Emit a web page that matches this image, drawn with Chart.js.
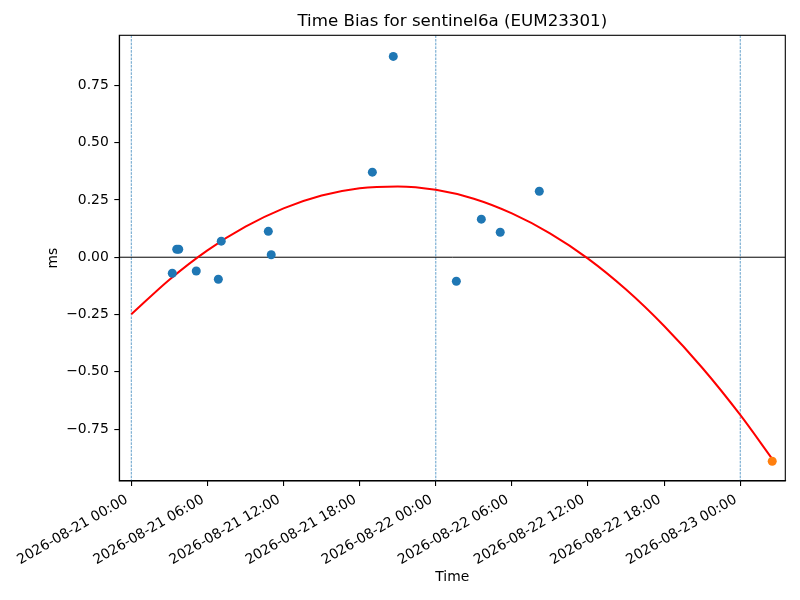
<!DOCTYPE html>
<html>
<head>
<meta charset="utf-8">
<script src="https://cdn.jsdelivr.net/npm/chart.js@4.4.1/dist/chart.umd.min.js"></script>
<style>
  html, body { margin: 0; padding: 0; background: #fff; }
  #wrap { width: 800px; height: 600px; }
</style>
</head>
<body>
<div id="wrap"><canvas id="c" width="800" height="600"></canvas></div>
<script>
// ---- Data (hours since 2026-08-21 00:00) ----
const obsHours  = [3.23, 3.58, 3.74, 5.12, 6.86, 7.09, 10.80, 11.03, 19.00, 20.65, 25.62, 27.59, 29.08, 32.16];
const obsValues = [-0.070, 0.035, 0.035, -0.060, -0.096, 0.070, 0.113, 0.011, 0.371, 0.876, -0.105, 0.166, 0.109, 0.288];

const predHours  = [50.52];
const predValues = [-0.890];

const fitHours  = [0, 3, 6, 9, 12, 15, 18, 21, 24, 27, 30, 33, 36, 39, 42, 45, 48, 50.52];
const fitValues = [-0.249, -0.098, 0.030, 0.133, 0.213, 0.269, 0.301, 0.309, 0.294, 0.255, 0.191, 0.104, -0.006, -0.141, -0.300, -0.482, -0.688, -0.880];

const dayLineHours = [0, 24, 48];

const xTickHours  = [0, 6, 12, 18, 24, 30, 36, 42, 48];
const xTickLabels = ['2026-08-21 00:00', '2026-08-21 06:00', '2026-08-21 12:00', '2026-08-21 18:00',
                     '2026-08-22 00:00', '2026-08-22 06:00', '2026-08-22 12:00', '2026-08-22 18:00',
                     '2026-08-23 00:00'];
const yTickValues = [-0.75, -0.5, -0.25, 0, 0.25, 0.5, 0.75];
const yTickLabels = ['\u22120.75', '\u22120.50', '\u22120.25', '0.00', '0.25', '0.50', '0.75'];

const titleText = 'Time Bias for sentinel6a (EUM23301)';
const xTitle = 'Time';
const yTitle = 'ms';

// ---- Chart ----
const FONT = 'DejaVu Sans';
Chart.defaults.font.family = FONT;
Chart.defaults.color = '#000';

const refLines = {
  id: 'refLines',
  beforeDatasetsDraw(chart) {
    const {ctx, chartArea, scales} = chart;
    ctx.save();
    ctx.beginPath();
    ctx.rect(chartArea.left, chartArea.top, chartArea.right - chartArea.left, chartArea.bottom - chartArea.top);
    ctx.clip();
    // vertical day lines
    ctx.strokeStyle = '#1f77b4';
    ctx.lineWidth = 0.7;
    ctx.setLineDash([2.6, 1.1]);
    dayLineHours.forEach(h => {
      const x = scales.x.getPixelForValue(h);
      ctx.beginPath();
      ctx.moveTo(x, chartArea.top);
      ctx.lineTo(x, chartArea.bottom);
      ctx.stroke();
    });
    // zero line
    ctx.setLineDash([]);
    ctx.strokeStyle = '#000';
    ctx.lineWidth = 1;
    const y0 = scales.y.getPixelForValue(0);
    ctx.beginPath();
    ctx.moveTo(chartArea.left, y0);
    ctx.lineTo(chartArea.right, y0);
    ctx.stroke();
    ctx.restore();
  },
  afterDraw(chart) {
    const {ctx, chartArea} = chart;
    ctx.save();
    ctx.strokeStyle = '#000';
    ctx.lineWidth = 1.1;
    ctx.strokeRect(chartArea.left, chartArea.top, chartArea.right - chartArea.left, chartArea.bottom - chartArea.top);
    // axes title, centred over the plot area
    ctx.fillStyle = '#000';
    ctx.font = '16.67px "' + FONT + '"';
    ctx.textAlign = 'center';
    ctx.textBaseline = 'middle';
    ctx.fillText(titleText, (chartArea.left + chartArea.right) / 2, 22);
    ctx.restore();
  }
};

new Chart(document.getElementById('c'), {
  type: 'scatter',
  data: {
    datasets: [
      {
        label: 'observed',
        data: obsHours.map((h, i) => ({x: h, y: obsValues[i]})),
        backgroundColor: '#1f77b4',
        borderWidth: 0,
        pointRadius: 4.5,
        order: 1
      },
      {
        label: 'predicted',
        data: predHours.map((h, i) => ({x: h, y: predValues[i]})),
        backgroundColor: '#ff7f0e',
        borderWidth: 0,
        pointRadius: 4.5,
        order: 0
      },
      {
        type: 'line',
        label: 'fit',
        data: fitHours.map((h, i) => ({x: h, y: fitValues[i]})),
        borderColor: '#ff0000',
        borderWidth: 2,
        pointRadius: 0,
        fill: false,
        cubicInterpolationMode: 'monotone',
        order: 2
      }
    ]
  },
  options: {
    responsive: false,
    animation: false,
    events: [],
    layout: { padding: { left: 0, right: 14.7, top: 35.3, bottom: 0 } },
    plugins: {
      legend: { display: false },
      tooltip: { enabled: false },
      title: { display: false }
    },
    scales: {
      x: {
        type: 'linear',
        min: -0.946,
        max: 51.55,
        afterBuildTicks(scale) { scale.ticks = xTickHours.map(v => ({value: v})); },
        afterFit(scale) { scale.height = 119; },
        ticks: {
          autoSkip: false,
          minRotation: 30,
          maxRotation: 30,
          padding: 5.6,
          labelOffset: -4.4,
          color: '#000',
          font: { family: FONT, size: 13.9 },
          callback(value) { const i = xTickHours.indexOf(value); return i >= 0 ? xTickLabels[i] : ''; }
        },
        grid: { display: true, drawOnChartArea: false, drawTicks: true, tickLength: 5, color: '#000', lineWidth: 1.1 },
        border: { display: true, color: '#000', width: 1.1 },
        title: {
          display: true,
          text: xTitle,
          color: '#000',
          font: { family: FONT, size: 13.9, lineHeight: 1.2 },
          padding: { top: 0, bottom: 14.7 }
        }
      },
      y: {
        type: 'linear',
        min: -0.976,
        max: 0.968,
        afterBuildTicks(scale) { scale.ticks = yTickValues.map(v => ({value: v})); },
        afterFit(scale) { scale.width = 119.3; },
        ticks: {
          padding: 5.5,
          color: '#000',
          font: { family: FONT, size: 13.9 },
          callback(value) { const i = yTickValues.indexOf(value); return i >= 0 ? yTickLabels[i] : ''; }
        },
        grid: { display: true, drawOnChartArea: false, drawTicks: true, tickLength: 5, color: '#000', lineWidth: 1.1 },
        border: { display: true, color: '#000', width: 1.1 },
        title: {
          display: true,
          text: yTitle,
          color: '#000',
          font: { family: FONT, size: 13.9, lineHeight: 1.2 },
          padding: { top: 45, bottom: 0 }
        }
      }
    }
  },
  plugins: [refLines]
});
</script>
</body>
</html>
